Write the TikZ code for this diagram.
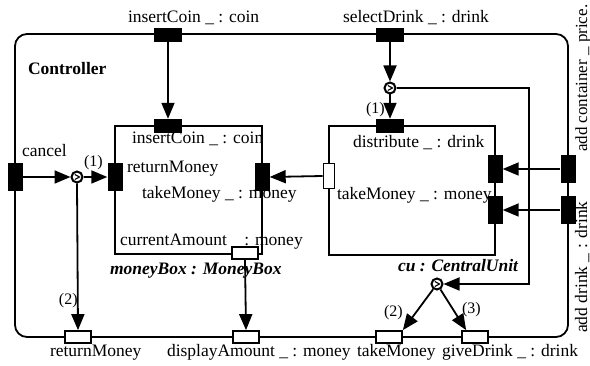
\documentclass[tikz,border=0pt]{standalone}
\usepackage{fontspec}
\setmainfont{Liberation Serif}
\usetikzlibrary{arrows.meta,calc}
\newcommand{\fsz}{\fontsize{17.5}{20}\selectfont}
\newcommand{\fsm}{\fontsize{16}{18}\selectfont}
\newcommand{\fsr}{\fontsize{17}{19}\selectfont}
\begin{document}
\begin{tikzpicture}[x=1pt,y=-1pt,
  lbl/.style={inner sep=0pt, outer sep=0pt, font=\fsz, anchor=base west},
  num/.style={inner sep=0pt, outer sep=0pt, font=\fsm, anchor=base west},
  hport/.style={rectangle, fill=black, inner sep=0pt, minimum width=28pt, minimum height=14pt},
  vport/.style={rectangle, fill=black, inner sep=0pt, minimum width=15pt, minimum height=28pt},
  oport/.style={rectangle, draw=black, fill=white, line width=1.7pt, inner sep=0pt, minimum width=26pt, minimum height=12pt},
  voport/.style={rectangle, draw=black, fill=white, line width=1.7pt, inner sep=0pt, minimum width=11pt, minimum height=25pt},
  junc/.style={circle, draw=black, fill=white, line width=2pt, inner sep=0pt, minimum size=11pt},
  wire/.style={line width=1.8pt},
  arr/.style={wire, -{Triangle[length=16pt,width=13pt]}},
  frame/.style={draw=black, line width=1.8pt}]
\useasboundingbox (0,0) rectangle (590,366);
\fill[white] (0,0) rectangle (590,366);

% frames
\draw[frame, rounded corners=12pt] (15,34) rectangle (568,337);
\draw[frame] (115,126) rectangle (262,254);
\draw[frame] (329,126) rectangle (495,255);

% ports
\node[hport] (pIC) at (168,35) {};
\node[hport] (pSD) at (390,35) {};
\node[hport] (mIC) at (168,126) {};
\node[hport] (cDist) at (390,126) {};
\node[vport] (pCancel) at (15,177) {};
\node[vport] (mRet) at (115,177) {};
\node[vport] (mTake) at (262,177) {};
\node[voport] (cTake) at (329,176) {};
\node[vport] (cCont) at (495,169) {};
\node[vport] (cDrink) at (495,210) {};
\node[vport] (pCont) at (568,169) {};
\node[vport] (pDrink) at (568,210) {};
\node[oport] (mCur) at (245,253) {};
\node[oport] (pRet) at (78,337) {};
\node[oport] (pDisp) at (246,337) {};
\node[oport] (pTake) at (389,337) {};
\node[oport] (pGive) at (475,337) {};

% junctions
\node[junc] (c0) at (77,177) {};
\node[junc] (c1) at (390,88) {};
\node[junc] (c2) at (437,284) {};
\coordinate (k2) at (529,284);
\foreach \c in {c0,c1,c2}
  \draw[line width=1.1pt] ($(\c)+(-2.2,-2.5)$) -- ($(\c)+(2.5,0)$) -- ($(\c)+(-2.2,2.5)$);

% connectors
\draw[arr] (pIC.south) -- (mIC.north);
\draw[arr] (pSD.south) -- (c1.north);
\draw[arr] (c1.south) -- (cDist.north);
\draw[arr] (c1.east) -| (k2) -- (c2.east);
\draw[arr] (pCancel.east) -- (c0.west);
\draw[arr] (c0.east) -- (mRet.west);
\draw[arr] (c0.south) -- (pRet.north);
\draw[arr] (cTake.west) -- (mTake.east);
\draw[arr] (mCur.south) -- (pDisp.north);
\draw[arr] (pCont.west) -- (cCont.east);
\draw[arr] (pDrink.west) -- (cDrink.east);
\draw[arr] (c2) -- (pTake.north east);
\draw[arr] (c2) -- ($(pGive.north west)+(5,0)$);

% labels
\node[lbl] (tIC) at (128,23) {insertCoin \_ : coin};
\node[lbl] (tSD) at (343,23) {selectDrink \_ : drink};
\node[lbl, font=\fsz\bfseries] (tCtrl) at (28,75) {Controller};
\node[lbl] (tCancel) at (22,157) {cancel};
\node[num] (n1a) at (84,167) {(1)};
\node[lbl] (tmIC) at (132,144) {insertCoin \_ : coin};
\node[lbl] (tmRet) at (127,173) {returnMoney};
\node[lbl] (tmTake) at (142,199) {takeMoney \_ : money};
\node[lbl] (tmCur) at (120,246) {currentAmount \_ : money};
\node[lbl, font=\fsz\bfseries\itshape] (tMB) at (110,275) {moneyBox : MoneyBox};
\node[num] (n1b) at (366,114) {(1)};
\node[lbl] (tDist) at (353,148) {distribute \_ : drink};
\node[lbl] (tcTake) at (337,200) {takeMoney \_ : money};
\node[lbl, font=\fsz\bfseries\itshape] (tCU) at (398,272) {cu : CentralUnit};
\node[num] (n2a) at (59,305) {(2)};
\node[num] (n2b) at (384,317) {(2)};
\node[num] (n3) at (462,314) {(3)};
\node[lbl] (tRet) at (50,357) {returnMoney};
\node[lbl] (tDisp) at (167,357) {displayAmount \_ : money};
\node[lbl] (tTake) at (357,357) {takeMoney};
\node[lbl] (tGive) at (442,357) {giveDrink \_ : drink};
\node[lbl, font=\fsr, rotate=90] (tCont) at (587,152) {add container \_ price.};
\node[lbl, rotate=90] (tDrink) at (587,333) {add drink \_ : drink};
\end{tikzpicture}
\end{document}
